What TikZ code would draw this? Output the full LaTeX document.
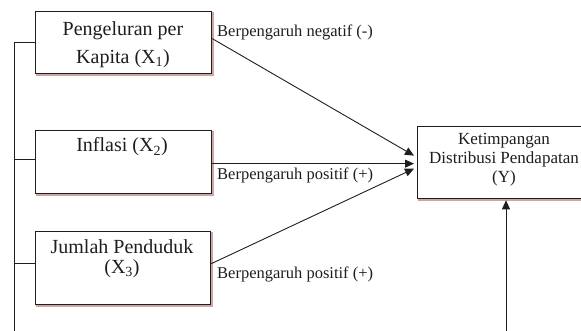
\documentclass[tikz,border=0pt]{standalone}
\usepackage{fontspec}
\setmainfont{Liberation Serif}
\usetikzlibrary{arrows.meta,calc}
\definecolor{shad}{RGB}{205,165,165}
\definecolor{ink}{RGB}{30,30,30}
\tikzset{
  boxshape/.style={draw=ink, line width=1.3pt, rectangle, inner sep=0pt, anchor=north west, fill=white},
  boxshadow/.style={draw=shad, line width=1.3pt},
  conn/.style={draw=ink, line width=0.9pt},
  arr/.style={conn, -{Triangle[length=9pt,width=8pt]}},
  boxtext/.style={align=center, text=ink, inner sep=0pt},
  lbl/.style={anchor=west, text=ink, inner sep=0pt, font=\fontsize{16.5}{18}\selectfont},
}
\begin{document}
\begin{tikzpicture}[x=1pt,y=-1pt]
\useasboundingbox (0,0) rectangle (581,331);
\clip (0,0) rectangle (581,331);
% shadows
\draw[boxshadow] (37,13) rectangle (213,75);
\draw[boxshadow] (37,132) rectangle (213,195);
\draw[boxshadow] (37,233) rectangle (212,306);
\draw[boxshadow] (419,128) rectangle (600,200);
% boxes
\node[boxshape, minimum width=176pt, minimum height=62pt] (b1) at (35,11) {};
\node[boxshape, minimum width=176pt, minimum height=63pt] (b2) at (35,130) {};
\node[boxshape, minimum width=175pt, minimum height=73pt] (b3) at (35,231) {};
\node[boxshape, minimum width=180pt, minimum height=72pt] (y) at (417,126) {};
% texts
\node[boxtext, font=\fontsize{20}{28}\selectfont] (t1) at (123,45) {Pengeluran per\\Kapita (X\textsubscript{1})};
\node[boxtext, font=\fontsize{20}{24}\selectfont] (t2) at (122,147) {Inflasi (X\textsubscript{2})};
\node[boxtext, font=\fontsize{20}{20}\selectfont] (t3) at (122,259) {Jumlah Penduduk\\(X\textsubscript{3})};
\node[boxtext, font=\fontsize{17}{19}\selectfont] (ty) at (504,160) {Ketimpangan\\Distribusi Pendapatan\\(Y)};
% labels
\node[lbl] (l1) at (217,32) {Berpengaruh negatif (-)};
\node[lbl] (l2) at (217,175) {Berpengaruh positif (+)};
\node[lbl] (l3) at (217,274) {Berpengaruh positif (+)};
% left bus
\coordinate (lt) at (14,42);
\coordinate (lb) at (14,332);
\draw[conn] (b1.west |- lt) -- (lt) -- (lb);
\draw[conn] ([yshift=2.5pt]b2.west) -- ([yshift=2.5pt]b2.west -| lt);
\draw[conn] ([yshift=4.5pt]b3.west) -- ([yshift=4.5pt]b3.west -| lt);
% arrows into Y
\draw[arr] ([yshift=4pt]b1.east) -- ([xshift=-3pt,yshift=7pt]y.west);
\draw[arr] ([yshift=-1.5pt]b2.east) -- ([xshift=-3pt,yshift=-1pt]y.west);
\draw[arr] ([yshift=4.5pt]b3.east) -- ([xshift=-3pt,yshift=-6pt]y.west);
% bottom arrow
\coordinate (yb) at (506,332);
\draw[arr] (yb) -- ([yshift=-1pt]yb |- y.south);
\end{tikzpicture}
\end{document}
